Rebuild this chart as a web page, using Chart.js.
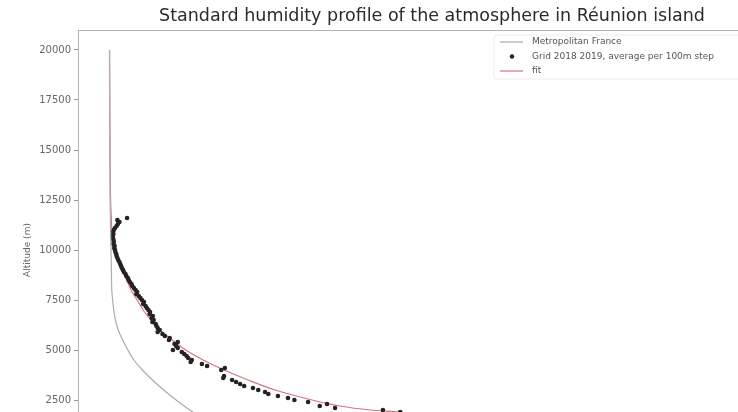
<!DOCTYPE html>
<html>
<head>
<meta charset="utf-8">
<script src="https://cdn.jsdelivr.net/npm/chart.js@4.4.1/dist/chart.umd.min.js"></script>
<style>
  html, body { margin: 0; padding: 0; background: #fff; overflow: hidden; width: 738px; height: 412px; }
  canvas { display: block; }
</style>
</head>
<body>
<canvas id="humidity-chart" width="830" height="520"></canvas>
<script>
// Altitude ticks (m)
const altitudeTicks = [0, 2500, 5000, 7500, 10000, 12500, 15000, 17500, 20000];
const humidityTicks = [0, 2, 4, 6, 8, 10, 12, 14, 16];

// Metropolitan France reference profile
const franceAlt = [20000, 17500, 15000, 12500, 11000, 10000, 9000, 8000, 7500, 7000, 6500, 6000,
    5500, 5000, 4500, 4000, 3500, 3000, 2500, 2000, 1500, 1000, 500, 0];
const franceHum = [0.003, 0.006, 0.01, 0.02, 0.03, 0.04, 0.05, 0.06, 0.08, 0.11, 0.15, 0.22,
    0.33, 0.46, 0.61, 0.82, 1.07, 1.35, 1.66, 2.0, 2.4, 2.9, 3.4, 4.0];

// Grid 2018-2019 averages per 100 m step
const gridAlt = [11600, 11500, 11400, 11300, 11200, 11100, 11000, 10900, 10800, 10700, 10600, 10500,
    10400, 10300, 10200, 10100, 10000, 9900, 9800, 9700, 9600, 9500, 9400, 9300, 9200, 9100, 9000,
    8900, 8800, 8700, 8600, 8500, 8400, 8300, 8200, 8100, 8000, 7900, 7800, 7700, 7600, 7500, 7400,
    7300, 7200, 7100, 7000, 6900, 6800, 6700, 6600, 6500, 6400, 6300, 6200, 6100, 6000, 5900, 5800,
    5700, 5600, 5500, 5400, 5300, 5200, 5100, 5000, 4900, 4800, 4700, 4600, 4500, 4400, 4300, 4200,
    4100, 4000, 3700, 3600, 3500, 3400, 3300, 3200, 3100, 3000, 2900, 2800, 2700, 2600, 2500, 2400,
    2300, 2200, 2100, 2000, 1900];
const gridHum = [0.44, 0.2, 0.25, 0.21, 0.18, 0.14, 0.11, 0.09, 0.1, 0.08, 0.09, 0.1,
    0.11, 0.1, 0.13, 0.12, 0.14, 0.15, 0.17, 0.18, 0.2, 0.22, 0.25, 0.27, 0.29, 0.31, 0.34,
    0.36, 0.4, 0.42, 0.46, 0.48, 0.51, 0.55, 0.57, 0.61, 0.65, 0.69, 0.67, 0.73, 0.77, 0.81, 0.86,
    0.84, 0.9, 0.93, 0.97, 1.01, 1.0, 1.08, 1.05, 1.1, 1.07, 1.15, 1.17, 1.2, 1.25, 1.2, 1.32,
    1.38, 1.5, 1.48, 1.7, 1.62, 1.66, 1.7, 1.58, 1.8, 1.86, 1.92, 1.96, 2.05, 2.02, 2.3, 2.43,
    2.87, 2.78, 2.85, 2.83, 3.05, 3.15, 3.25, 3.35, 3.57, 3.7, 3.87, 3.95, 4.19, 4.44, 4.6, 4.94,
    5.41, 5.23, 5.61, 6.8, 7.23];

// Fitted profile
const fitAlt = [20000, 18000, 16000, 14000, 12500, 11500, 10500, 10000, 9500, 9000, 8000, 7500, 7000,
    6500, 6000, 5500, 5000, 4500, 4000, 3500, 3000, 2500, 2200, 2000, 1900, 1800, 1500, 1000, 500, 0];
const fitHum = [0.005, 0.01, 0.015, 0.02, 0.03, 0.05, 0.08, 0.14, 0.22, 0.32, 0.54, 0.69, 0.84,
    1.03, 1.26, 1.56, 1.9, 2.33, 2.85, 3.45, 4.12, 5.04, 5.73, 6.48, 7.2, 7.6, 8.6, 10.6, 12.8, 15.2];

const chartTitle = "Standard humidity profile of the atmosphere in Réunion island";
const seriesLabels = ["Metropolitan France", "Grid 2018 2019, average per 100m step", "fit"];

const FONT = "'DejaVu Sans', sans-serif";

function toPoints(xs, ys) {
    return xs.map((x, i) => ({ x: x, y: ys[i] }));
}

// Title, frame and matplotlib-like legend
const figureDecor = {
    id: "figureDecor",
    afterDraw(chart) {
        const ctx = chart.ctx;
        const a = chart.chartArea;
        ctx.save();

        // axes frame
        ctx.strokeStyle = "#b4b4b4";
        ctx.lineWidth = 1;
        ctx.strokeRect(a.left + 0.5, a.top + 0.5, a.right - a.left, a.bottom - a.top);

        // title
        ctx.fillStyle = "#2a2a2a";
        ctx.font = "17.5px " + FONT;
        ctx.textAlign = "center";
        ctx.textBaseline = "middle";
        ctx.fillText(chartTitle, (a.left + a.right) / 2, 16);

        // legend
        const lx = 494, ly = 35;
        ctx.strokeStyle = "#ececec";
        ctx.fillStyle = "rgba(255,255,255,0.8)";
        ctx.beginPath();
        ctx.roundRect(lx, ly, a.right - 6 - lx, 44, 3);
        ctx.fill();
        ctx.stroke();

        ctx.font = "9px " + FONT;
        ctx.textAlign = "left";
        chart.data.datasets.forEach((ds, i) => {
            const y = 42 + i * 14.5;
            if (ds.showLine) {
                ctx.strokeStyle = ds.borderColor;
                ctx.lineWidth = ds.borderWidth;
                ctx.beginPath();
                ctx.moveTo(500, y);
                ctx.lineTo(523, y);
                ctx.stroke();
            } else {
                ctx.fillStyle = ds.backgroundColor;
                ctx.beginPath();
                ctx.arc(512, y, 2.2, 0, Math.PI * 2);
                ctx.fill();
            }
            ctx.fillStyle = "#555";
            ctx.fillText(ds.label, 532, y);
        });
        ctx.restore();
    }
};

const ctx = document.getElementById("humidity-chart").getContext("2d");

new Chart(ctx, {
    type: "scatter",
    data: {
        datasets: [
            {
                label: seriesLabels[0],
                data: toPoints(franceHum, franceAlt),
                showLine: true,
                borderColor: "#a9aeab",
                borderWidth: 1.2,
                pointRadius: 0,
                tension: 0.3,
            },
            {
                label: seriesLabels[1],
                data: toPoints(gridHum, gridAlt),
                showLine: false,
                backgroundColor: "#262223",
                borderColor: "#262223",
                pointRadius: 2.3,
                pointBorderWidth: 0,
            },
            {
                label: seriesLabels[2],
                data: toPoints(fitHum, fitAlt),
                showLine: true,
                borderColor: "#d6737f",
                borderWidth: 1.2,
                pointRadius: 0,
                tension: 0.3,
            },
        ],
    },
    options: {
        responsive: false,
        animation: false,
        layout: { padding: { left: 0, top: 30, right: 44, bottom: 0 } },
        plugins: {
            legend: { display: false },
            tooltip: { enabled: false },
        },
        scales: {
            x: {
                type: "linear",
                min: -0.78,
                max: 16.82,
                afterFit: (s) => { s.height = 50; },
                afterBuildTicks: (s) => { s.ticks = humidityTicks.map((v) => ({ value: v })); },
                grid: { drawOnChartArea: false, tickLength: 4, color: "#999" },
                border: { color: "#b4b4b4" },
                ticks: { font: { family: FONT, size: 10 }, color: "#666" },
            },
            y: {
                type: "linear",
                min: -1000,
                max: 21000,
                afterFit: (s) => { s.width = 78; },
                afterBuildTicks: (s) => { s.ticks = altitudeTicks.map((v) => ({ value: v })); },
                grid: { drawOnChartArea: false, tickLength: 4, color: "#999" },
                border: { color: "#b4b4b4" },
                ticks: {
                    font: { family: FONT, size: 10 },
                    color: "#666",
                    padding: 3,
                    callback: (v) => String(v),
                },
                title: {
                    display: true,
                    text: "Altitude (m)",
                    font: { family: FONT, size: 9 },
                    color: "#666",
                    padding: { top: 22, bottom: 0 },
                },
            },
        },
    },
    plugins: [figureDecor],
});
</script>
</body>
</html>
